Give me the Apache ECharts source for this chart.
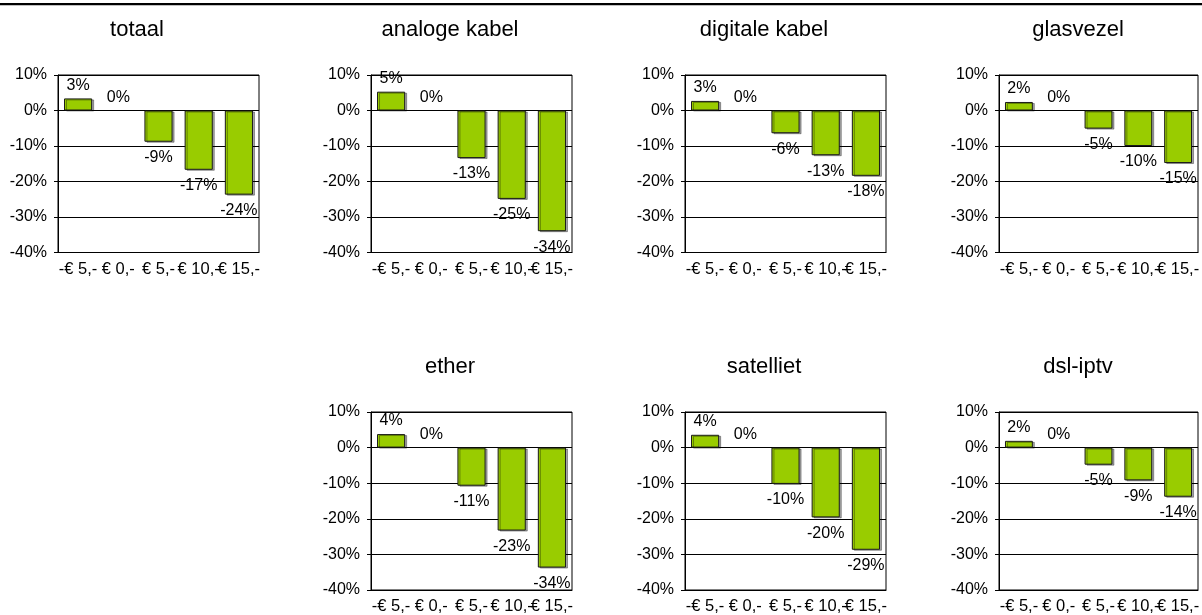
<!DOCTYPE html>
<html>
<head>
<meta charset="utf-8">
<script src="https://cdn.jsdelivr.net/npm/echarts@6/dist/echarts.min.js"></script>
<style>
html,body{margin:0;padding:0;background:#fff;}
#chart{width:1202px;height:615px;}
</style>
</head>
<body>
<div id="chart"></div>
<script>
// ---- data ----
const categories = ['-€ 5,-', '€ 0,-', '€ 5,-', '€ 10,-', '€ 15,-'];
const panelTitles = ['totaal', 'analoge kabel', 'digitale kabel', 'glasvezel', 'ether', 'satelliet', 'dsl-iptv'];
const totaal        = [3.4, 0, -8.8, -16.7, -23.7];
const analogeKabel  = [5.3, 0, -13.4, -24.9, -34.0];
const digitaleKabel = [2.7, 0, -6.4, -12.6, -18.4];
const glasvezel     = [2.4, 0, -5.1, -10.0, -14.8];
const ether         = [3.8, 0, -10.7, -23.3, -33.7];
const satelliet     = [3.6, 0, -10.2, -19.6, -28.7];
const dslIptv       = [1.9, 0, -4.8, -9.2, -13.8];
const yMin = -40, yMax = 10, yStep = 10;

const seriesData = [totaal, analogeKabel, digitaleKabel, glasvezel, ether, satelliet, dslIptv];

// ---- layout ----
const FONT = 'Liberation Sans, Arial, sans-serif';
const colLeft = [58, 371, 685, 999];
const plotW = 201;
const rowTop = [75, 412];
const plotH = [177.5, 178];
const slots = [[0,0],[0,1],[0,2],[0,3],[1,1],[1,2],[1,3]];

const grids = [], xAxes = [], yAxes = [], series = [], titles = [];
slots.forEach(([r, c], i) => {
  const left = colLeft[c], top = rowTop[r];
  grids.push({left: left, top: top, width: plotW, height: plotH[r], show: true, borderColor: '#000', borderWidth: 1, backgroundColor: '#fff'});
  xAxes.push({
    type: 'category', gridIndex: i, data: categories,
    axisLine: {show: true, onZero: false, lineStyle: {color: '#000'}},
    axisTick: {show: false},
    axisLabel: {color: '#000', fontFamily: FONT, fontSize: 16.5, margin: 8, interval: 0}
  });
  yAxes.push({
    type: 'value', gridIndex: i, min: yMin, max: yMax, interval: yStep,
    axisLine: {show: true, lineStyle: {color: '#000'}},
    axisTick: {show: true, length: 4, lineStyle: {color: '#000'}},
    splitLine: {show: true, lineStyle: {color: '#000', width: 1}},
    axisLabel: {color: '#000', fontFamily: FONT, fontSize: 16, margin: 11, formatter: '{value}%'}
  });
  series.push({
    type: 'bar', xAxisIndex: i, yAxisIndex: i, barWidth: '70%',
    data: seriesData[i].map(v => {
      const d = {
        value: v,
        label: {position: v >= 0 ? 'top' : 'bottom', distance: v >= 0 ? 5 : 8}
      };
      if (v === 0) d.itemStyle = {borderWidth: 0, shadowColor: 'transparent'};
      return d;
    }),
    itemStyle: {color: '#99CC00', borderColor: '#1a1a1a', borderWidth: 1,
      shadowColor: 'rgba(0,0,0,0.35)', shadowOffsetX: 2, shadowOffsetY: 1, shadowBlur: 0},
    label: {show: true, color: '#000', fontFamily: FONT, fontSize: 16,
      formatter: p => Math.round(p.value) + '%'},
    animation: false
  });
  titles.push({
    text: panelTitles[i], left: left + plotW / 2 - 26.5, top: r === 0 ? 14 : 351,
    textAlign: 'center',
    textStyle: {fontFamily: FONT, fontSize: 22, fontWeight: 'normal', color: '#000'}
  });
});

const chart = echarts.init(document.getElementById('chart'), null, {renderer: 'canvas'});
chart.setOption({
  animation: false,
  backgroundColor: '#fff',
  title: titles,
  grid: grids,
  xAxis: xAxes,
  yAxis: yAxes,
  series: series,
  graphic: [{type: 'rect', shape: {x: 0, y: 3, width: 1202, height: 2.2}, style: {fill: '#000'}, silent: true}]
});
</script>
</body>
</html>
